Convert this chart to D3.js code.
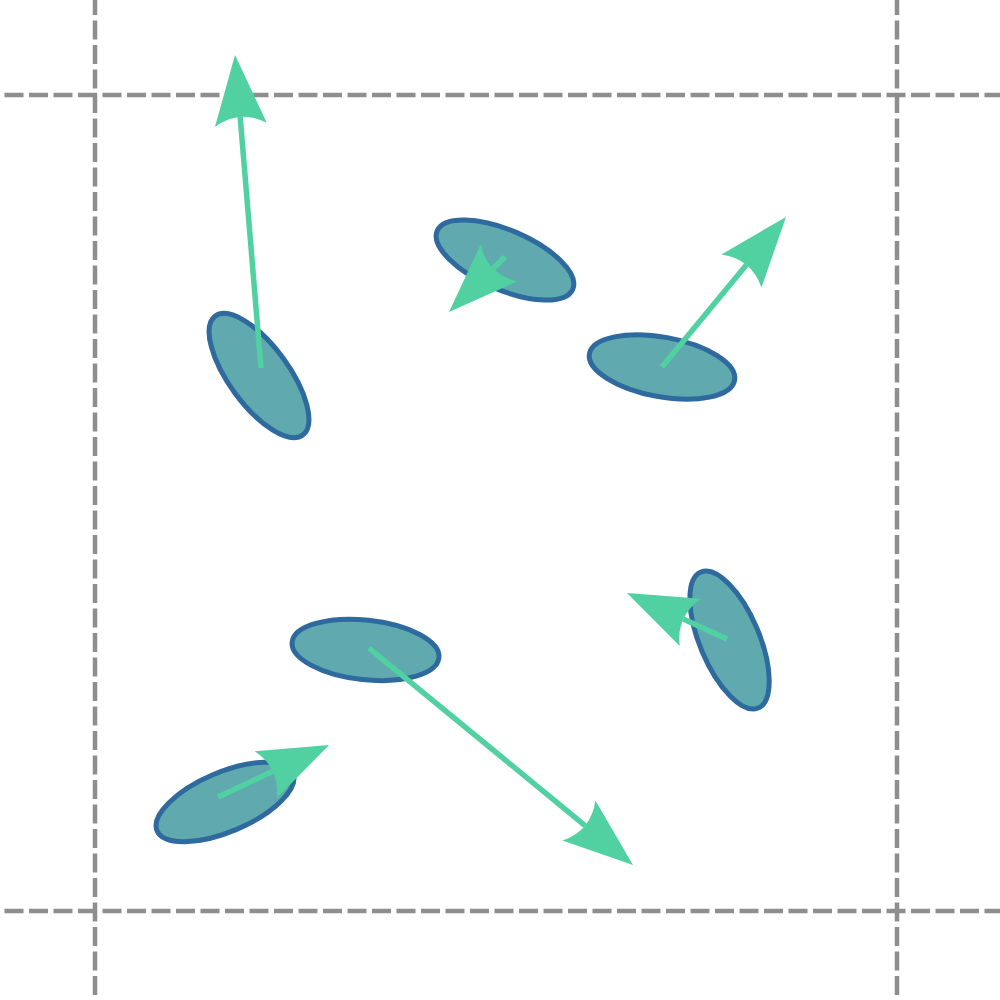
<!DOCTYPE html>
<html>
<head>
<meta charset="utf-8">
<script src="https://cdn.jsdelivr.net/npm/d3@7"></script>
<style>
  html, body { margin: 0; padding: 0; background: #ffffff; }
  svg { display: block; }
</style>
</head>
<body>
<svg id="chart" width="1000" height="1000"></svg>
<script>
// ---- data (unit coordinates, grid at 0 and 1) ----
const xTicks = [0, 1];
const yTicks = [0, 1];

// ellipse centres and orientation (degrees, counter-clockwise in data space)
const ellX     = [0.2045, 0.5112, 0.7070, 0.3373, 0.7912, 0.1621];
const ellY     = [0.6562, 0.7978, 0.6667, 0.3199, 0.3321, 0.1336];
const ellAngle = [-53.7, -23.3, -10.4, -6.1, -67.2, 23.0];

// arrow origins and vector components
const arrX = [0.2070, 0.5112, 0.7070, 0.3416, 0.7880, 0.1534];
const arrY = [0.6654, 0.8015, 0.6667, 0.3223, 0.3333, 0.1397];
const arrU = [-0.0324, -0.0698, 0.1546, 0.3292, -0.1247, 0.1384];
const arrV = [0.3836, -0.0674, 0.1838, -0.2659, 0.0564, 0.0637];

// ---- layout / style ----
const W = 1000, H = 1000;
const x = d3.scaleLinear().domain([0, 1]).range([95, 897]);
const y = d3.scaleLinear().domain([0, 1]).range([911, 95]);

const ELL_RX = 73.8, ELL_RY = 29.8;
const HEAD_LEN = 70, HEAD_HALF = 26, HEAD_DEPTH = 8;

const svg = d3.select("#chart");
svg.append("rect").attr("width", W).attr("height", H).attr("fill", "#ffffff");

// grid lines
const grid = svg.append("g")
  .attr("stroke", "#8e8e8e")
  .attr("stroke-width", 4.5)
  .attr("stroke-dasharray", "19,5.5")
  .attr("fill", "none");

grid.selectAll("line.v").data(xTicks).join("line")
  .attr("class", "v")
  .attr("x1", d => x(d)).attr("x2", d => x(d))
  .attr("y1", 0).attr("y2", H)
  .attr("stroke-dashoffset", 4);

grid.selectAll("line.h").data(yTicks).join("line")
  .attr("class", "h")
  .attr("y1", d => y(d)).attr("y2", d => y(d))
  .attr("x1", 0).attr("x2", W)
  .attr("stroke-dashoffset", 20);

// ellipses
const ellData = ellX.map((cx, i) => ({ cx, cy: ellY[i], a: ellAngle[i] }));
svg.append("g").selectAll("ellipse").data(ellData).join("ellipse")
  .attr("cx", 0).attr("cy", 0)
  .attr("rx", ELL_RX).attr("ry", ELL_RY)
  .attr("transform", d => `translate(${x(d.cx)},${y(d.cy)}) rotate(${-d.a})`)
  .attr("fill", "#5fa9af")
  .attr("stroke", "#2e6a9e")
  .attr("stroke-width", 5);

// arrows
const arrData = arrX.map((ax, i) => {
  const sx = x(ax), sy = y(arrY[i]);
  const tx = x(ax + arrU[i]), ty = y(arrY[i] + arrV[i]);
  const len = Math.hypot(tx - sx, ty - sy);
  const dx = (tx - sx) / len, dy = (ty - sy) / len;
  const nx = -dy, ny = dx;
  const bx = tx - dx * HEAD_LEN, by = ty - dy * HEAD_LEN;
  return {
    sx, sy, tx, ty,
    ex: bx + dx * HEAD_DEPTH, ey: by + dy * HEAD_DEPTH,
    c1x: bx + nx * HEAD_HALF, c1y: by + ny * HEAD_HALF,
    c2x: bx - nx * HEAD_HALF, c2y: by - ny * HEAD_HALF,
    qx: bx + dx * HEAD_DEPTH * 2, qy: by + dy * HEAD_DEPTH * 2
  };
});

const ag = svg.append("g");
ag.selectAll("line").data(arrData).join("line")
  .attr("x1", d => d.sx).attr("y1", d => d.sy)
  .attr("x2", d => d.ex).attr("y2", d => d.ey)
  .attr("stroke", "#51d1a2")
  .attr("stroke-width", 5.5)
  .attr("stroke-linecap", "butt");

ag.selectAll("path").data(arrData).join("path")
  .attr("d", d => {
    const p = d3.path();
    p.moveTo(d.tx, d.ty);
    p.lineTo(d.c1x, d.c1y);
    p.quadraticCurveTo(d.qx, d.qy, d.c2x, d.c2y);
    p.closePath();
    return p.toString();
  })
  .attr("fill", "#51d1a2");
</script>
</body>
</html>
